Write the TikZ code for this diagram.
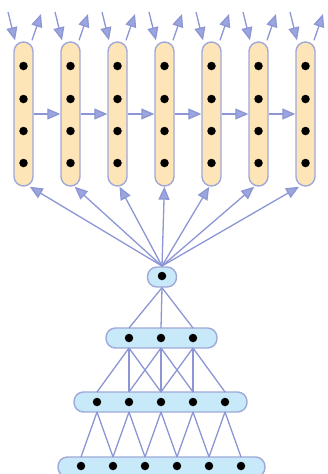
\documentclass[tikz,border=0pt]{standalone}
\usetikzlibrary{arrows.meta}
\definecolor{ln}{RGB}{140,150,212}
\definecolor{tipf}{RGB}{155,165,222}
\definecolor{peach}{RGB}{253,229,184}
\definecolor{sky}{RGB}{200,233,250}
\definecolor{bd}{RGB}{160,168,215}
\tikzset{
  col/.style={draw=bd,fill=peach,line width=1.4pt,rounded corners=9.5pt,minimum width=19pt,minimum height=144pt,inner sep=0pt},
  row/.style={draw=bd,fill=sky,line width=1.4pt,rounded corners=9.5pt,minimum height=20pt,inner sep=0pt},
  dot/.style={circle,fill=black,minimum size=8.5pt,inner sep=0pt},
  conn/.style={draw=ln,line width=1.3pt},
  arr/.style={conn,-{Triangle[length=13pt,width=11pt,fill=tipf]}},
}
\begin{document}
\begin{tikzpicture}[x=1pt,y=-1pt]
\useasboundingbox (0,0) rectangle (328,474);
% bottom single node
\node[row,minimum width=29pt,minimum height=20pt] (b) at (162,277) {};
\node[dot] (bd) at (162,276) {};
\coordinate (bt) at (162,266);
% columns
\foreach \i in {1,...,7}{
  \pgfmathsetmacro{\cx}{23.5+47*(\i-1)}
  \pgfmathsetmacro{\sh}{(162-\cx)*0.045}
  \node[col] (c\i) at (\cx,114) {};
  \foreach \j/\yy in {1/66,2/99,3/131,4/163}
    \node[dot] (c\i d\j) at (\cx,\yy) {};
  \coordinate (in\i) at (\cx-15.5,12);
  \coordinate (out\i) at (\cx+17.5,14);
  \draw[arr] (in\i) -- ([xshift=-8.5pt,yshift=1pt]c\i.north);
  \draw[arr] ([xshift=8.5pt,yshift=1pt]c\i.north) -- (out\i);
  \draw[arr] (bt) -- ([xshift=\sh pt]c\i.south);
}
\foreach \i [count=\k from 2] in {1,...,6}
  \draw[arr] (c\i.east |- 0,114) -- (c\k.west |- 0,114);
% row 1
\node[row,minimum width=111pt] (r1) at (161.5,338) {};
\foreach \j/\xx in {1/129,2/161,3/193}{
  \node[dot] (r1d\j) at (\xx,338) {};
  \coordinate (r1t\j) at (\xx,328);
  \coordinate (r1b\j) at (\xx,348);
}
% row 2
\node[row,minimum width=173pt] (r2) at (160.5,402) {};
\foreach \j/\xx in {1/97,2/129,3/161,4/193,5/225}{
  \node[dot] (r2d\j) at (\xx,402) {};
  \coordinate (r2t\j) at (\xx,392);
  \coordinate (r2b\j) at (\xx,412);
}
% row 3
\node[row,minimum width=207pt] (r3) at (161.5,467) {};
\foreach \j/\xx in {1/81,2/113,3/145,4/177,5/209,6/241}{
  \node[dot] (r3d\j) at (\xx,466) {};
  \coordinate (r3t\j) at (\xx,457);
}
% connections
\foreach \j in {1,2,3}
  \draw[conn] (b.south) -- (r1t\j);
\foreach \a/\b in {1/1,1/2,1/3,2/2,2/3,2/4,3/3,3/4,3/5}
  \draw[conn] (r1b\a) -- (r2t\b);
\foreach \a/\b in {1/1,1/2,2/2,2/3,3/3,3/4,4/4,4/5,5/5,5/6}
  \draw[conn] (r2b\a) -- (r3t\b);
\end{tikzpicture}
\end{document}
